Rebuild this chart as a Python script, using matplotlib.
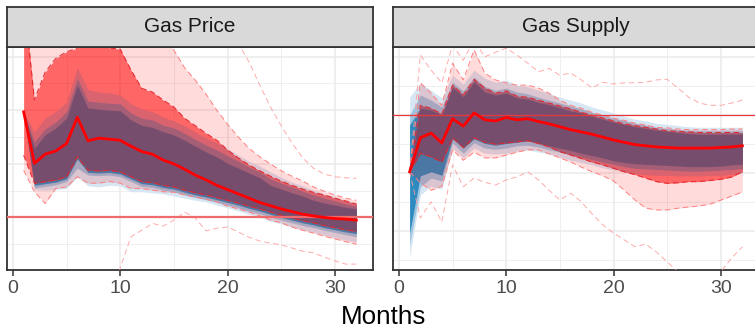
import numpy as np
import matplotlib.pyplot as plt

plt.rcParams['font.family'] = ['Liberation Sans', 'DejaVu Sans']
plt.rcParams['lines.scale_dashes'] = False

months = np.arange(1, 33)

# ---- Gas Price (left panel) ----
price_median = [19.7, 10.1, 11.8, 12.4, 13.8, 18.7, 14.3, 14.8, 14.6, 14.4, 13.3, 12.3, 11.8, 10.7, 10.0, 9.0,
                7.9, 7.0, 6.0, 5.2, 4.4, 3.6, 2.8, 2.2, 1.6, 1.1, 0.6, 0.3, 0.0, -0.2, -0.3, -0.5]
price_b_in_hi = [19.7, 12.9, 15.4, 16.7, 18.5, 24.7, 20.4, 20.2, 20.0, 19.9, 18.2, 17.2, 16.8, 16.0, 15.4, 14.4,
                 13.3, 12.2, 11.3, 10.1, 9.2, 8.3, 7.4, 6.0, 5.3, 4.6, 4.0, 3.2, 2.7, 2.3, 1.9, 1.6]
price_b_mid_hi = [19.7, 14.1, 16.5, 17.8, 19.7, 26.0, 21.7, 21.5, 21.3, 21.2, 19.5, 18.5, 18.2, 17.2, 16.7, 15.7,
                  14.6, 13.5, 12.6, 11.5, 10.5, 9.4, 8.5, 7.2, 6.4, 5.7, 4.9, 4.2, 3.6, 3.1, 2.5, 2.1]
price_b_out_hi = [19.7, 15.9, 18.5, 19.7, 21.5, 27.9, 23.8, 23.4, 23.2, 22.8, 21.2, 20.2, 19.7, 18.7, 18.0, 17.1,
                  15.9, 14.8, 13.9, 12.8, 11.6, 10.5, 9.6, 8.5, 7.5, 6.6, 5.9, 5.1, 4.4, 3.8, 3.2, 2.7]
price_b_in_lo = [19.7, 6.0, 6.3, 6.6, 7.2, 10.9, 8.4, 8.3, 8.4, 8.1, 7.2, 6.3, 6.1, 5.6, 5.3, 4.7,
                 4.2, 3.8, 3.3, 2.8, 2.3, 1.7, 1.2, 0.6, 0.0, -0.5, -1.0, -1.4, -1.9, -2.3, -2.7, -3.0]
price_b_mid_lo = [19.7, 5.5, 5.8, 6.1, 6.7, 9.2, 7.9, 7.8, 7.9, 7.6, 6.7, 5.8, 5.6, 5.1, 4.8, 4.2,
                  3.7, 3.3, 2.8, 2.3, 1.8, 1.2, 0.7, 0.1, -0.5, -1.0, -1.5, -1.9, -2.4, -2.8, -3.2, -3.6]
price_b_out_lo = [19.7, 5.2, 5.1, 5.2, 5.4, 7.6, 5.9, 5.7, 6.0, 5.9, 4.8, 4.8, 4.6, 4.4, 4.0, 3.6,
                  3.2, 2.9, 2.3, 1.8, 1.2, 0.6, 0.1, -0.7, -1.2, -1.8, -2.3, -2.7, -3.3, -3.8, -4.2, -4.6]
price_r_in_hi = [41.7, 21.9, 27.1, 29.7, 30.9, 31.6, 32.4, 32.4, 31.6, 31.4, 27.5, 24.1, 23.4, 21.9, 20.6, 18.5,
                 17.1, 15.7, 14.4, 12.6, 11.1, 9.8, 8.7, 7.7, 6.8, 6.0, 5.3, 4.7, 4.2, 3.6, 3.1, 2.5]
price_r_in_lo = [11.6, 6.4, 6.7, 7.0, 7.6, 11.3, 8.8, 8.7, 8.8, 8.5, 7.6, 6.7, 6.5, 6.0, 5.7, 5.1,
                 4.6, 4.2, 3.7, 3.2, 2.7, 2.1, 1.6, 1.0, 0.4, -0.1, -0.6, -1.0, -1.5, -1.9, -2.3, -2.6]
price_r_out_hi = [45, 38, 40, 42, 43, 44, 44, 43, 42, 41, 39, 37, 35, 33.5, 31.2, 27.9,
                  25.6, 23.0, 20.0, 17.4, 15.0, 12.9, 11.3, 10.0, 8.7, 7.7, 6.8, 5.7, 4.9, 4.2, 3.6, 3.2]
price_r_out_lo = [8.8, 4.8, 2.6, 5.4, 5.7, 7.6, 6.4, 6.4, 6.7, 6.4, 5.4, 5.4, 5.1, 4.8, 4.7, 4.2,
                  3.8, 3.4, 2.9, 2.1, 1.6, 1.0, 0.3, -0.5, -1.0, -1.8, -2.4, -2.9, -3.5, -4.0, -4.5, -5.0]
price_x_hi = [45, 48, 50, 51, 52, 53, 53, 52, 51, 50, 48, 46, 44, 42, 40, 38,
              36.5, 35, 34, 33.5, 32.5, 29.0, 24.7, 20.6, 17.1, 13.9, 11.1, 9.2, 8.1, 7.6, 7.4, 7.3]
price_x_lo = [-14, -20, -22, -21, -20, -17, -19, -18, -17, -9.4, -3.6, -2.4, -1.1, -1.6, -0.5, 1.0,
              -0.1, -2.5, -2.0, -1.8, -2.7, -3.7, -4.4, -4.8, -5.1, -5.7, -6.3, -6.6, -7.4, -8.1, -8.7, -8.7]

# ---- Gas Supply (right panel) ----
supply_median = [-9.8, -3.9, -3.1, -4.8, -0.6, -1.9, 0.4, -0.8, -1.0, -0.4, -0.8, -0.6, -1.1, -1.5, -2.0, -2.5,
                 -2.9, -3.3, -3.8, -4.3, -4.7, -5.1, -5.3, -5.5, -5.6, -5.7, -5.7, -5.7, -5.7, -5.6, -5.5, -5.3]
supply_b_in_hi = [-1.7, 1.2, 0.9, 0.0, 4.8, 3.2, 5.8, 4.0, 3.5, 3.8, 3.0, 2.8, 2.2, 1.8, 1.3, 0.7,
                  0.4, -0.2, -0.7, -1.2, -1.6, -2.0, -2.3, -2.6, -2.8, -3.0, -3.2, -3.3, -3.3, -3.3, -3.3, -3.3]
supply_b_mid_hi = [0.0, 3.5, 2.6, 1.4, 5.7, 4.2, 6.6, 5.0, 4.3, 4.7, 4.0, 3.7, 3.1, 2.6, 2.1, 1.6,
                   1.1, 0.5, 0.0, -0.5, -0.9, -1.4, -1.7, -2.1, -2.3, -2.5, -2.6, -2.7, -2.7, -2.7, -2.7, -2.7]
supply_b_out_hi = [3.1, 5.6, 4.3, 3.0, 6.9, 5.4, 7.8, 6.4, 5.7, 6.1, 5.2, 4.9, 4.3, 3.8, 3.1, 2.6,
                   2.1, 1.4, 0.9, 0.4, -0.2, -0.7, -1.0, -1.4, -1.6, -1.8, -2.0, -2.1, -2.1, -2.1, -2.1, -2.1]
supply_b_in_lo = [-20.4, -10.5, -9.8, -10.4, -4.1, -5.7, -4.1, -4.9, -5.2, -4.9, -4.7, -4.4, -4.8, -5.3, -5.7, -6.1,
                  -6.6, -7.0, -7.4, -7.9, -8.2, -8.4, -8.5, -8.6, -8.7, -8.8, -8.9, -8.9, -8.9, -8.8, -8.6, -8.5]
supply_b_mid_lo = [-22.5, -12.4, -10.9, -11.4, -4.8, -6.6, -4.8, -5.7, -5.9, -5.7, -5.3, -5.2, -5.5, -6.0, -6.4, -6.8,
                   -7.2, -7.7, -8.1, -8.5, -8.9, -9.2, -9.3, -9.4, -9.5, -9.6, -9.7, -9.7, -9.6, -9.5, -9.4, -9.2]
supply_b_out_lo = [-24.5, -13.8, -12.3, -12.8, -5.7, -7.4, -5.7, -6.6, -6.7, -6.6, -6.2, -6.0, -6.4, -6.7, -7.2, -7.8,
                   -8.2, -8.6, -9.1, -9.5, -9.8, -10.1, -10.3, -10.4, -10.4, -10.5, -10.5, -10.5, -10.4, -10.4, -10.2, -10.0]
supply_r_in_hi = [-9.8, 1.7, 1.2, 0.2, 5.2, 3.5, 6.2, 4.7, 3.8, 4.2, 3.3, 3.1, 2.6, 2.1, 1.6, 1.1,
                  0.5, 0.0, -0.5, -1.0, -1.5, -1.8, -2.1, -2.4, -2.7, -2.8, -2.9, -3.0, -3.0, -3.0, -3.0, -3.0]
supply_r_in_lo = [-9.8, -6.6, -7.2, -8.1, -3.9, -5.6, -3.9, -4.7, -5.0, -4.8, -4.6, -4.4, -4.9, -5.5, -6.3, -6.9,
                  -7.5, -8.1, -8.6, -9.2, -9.8, -10.3, -10.9, -11.5, -11.8, -11.7, -11.5, -11.5, -11.3, -11.1, -10.7, -9.8]
supply_r_out_hi = [-9.8, 5.6, 3.8, 1.7, 9.0, 6.1, 11.3, 7.3, 6.1, 5.6, 5.2, 5.2, 4.7, 3.8, 2.6, 1.7,
                   1.2, 0.5, 0.0, -0.5, -0.9, -1.4, -1.7, -2.1, -2.2, -2.4, -2.5, -2.5, -2.5, -2.5, -2.4, -2.4]
supply_r_out_lo = [-9.8, -11.7, -13.0, -12.3, -6.0, -7.8, -6.4, -7.4, -7.4, -6.9, -6.4, -6.0, -6.0, -6.7, -7.4, -8.1,
                   -9.0, -9.8, -10.5, -11.4, -13.0, -14.7, -16.1, -16.4, -16.4, -16.1, -15.9, -15.7, -15.4, -14.7, -14.0, -13.3]
supply_x_hi = [-9.8, 10.4, 7.8, 5.6, 12.1, 9.5, 13.0, 10.1, 10.9, 11.6, 10.4, 9.0, 7.5, 8.1, 6.9, 7.3,
               6.1, 4.7, 5.7, 5.4, 5.6, 5.6, 5.7, 6.1, 6.2, 4.7, 3.1, 2.1, 1.7, 1.7, 2.1, 2.6]
supply_x_lo = [-9.8, -17.8, -15.0, -18.5, -8.6, -12.4, -10.9, -11.6, -12.1, -11.2, -10.7, -9.8, -11.2, -13.0, -14.7, -13.5,
               -15.0, -17.1, -19.0, -20.4, -21.6, -22.8, -22.3, -23.7, -25.4, -27.1, -28.2, -28.9, -28.5, -27.1, -24.7, -22.8]

panel_titles = ['Gas Price', 'Gas Supply']

# colours
blue_out, blue_mid, blue_in = '#D6E6F3', '#9CC3E0', '#2E8BC0'
mix_out, mix_mid, mix_in = '#D9646F', '#A45E76', '#774D6E'
red = '#FF0000'


def draw_panel(ax, med, b_in, b_mid, b_out, r_in, r_out, ex, ylim, yt_major, yt_minor, hl_col, hl_lw):
    xf = np.linspace(1, 32, 1241)
    f = lambda s: np.interp(xf, months, s)
    bi_lo, bi_hi = f(b_in[0]), f(b_in[1])
    bm_lo, bm_hi = f(b_mid[0]), f(b_mid[1])
    bo_lo, bo_hi = f(b_out[0]), f(b_out[1])
    ri_lo, ri_hi = f(r_in[0]), f(r_in[1])
    ro_lo, ro_hi = f(r_out[0]), f(r_out[1])

    # blue fan
    ax.fill_between(xf, bo_lo, bo_hi, color=blue_out, lw=0, zorder=1)
    ax.fill_between(xf, bm_lo, bm_hi, color=blue_mid, lw=0, zorder=1.1)
    ax.fill_between(xf, bi_lo, bi_hi, color=blue_in, lw=0, zorder=1.2)
    # red fan
    ax.fill_between(xf, ro_lo, ro_hi, color=red, alpha=0.14, lw=0, zorder=2)
    ax.fill_between(xf, ri_lo, ri_hi, color=red, alpha=0.53, lw=0, zorder=2.1)
    # overlap of inner red band with the blue bands
    for k, (blo, bhi, col) in enumerate([(bo_lo, bo_hi, mix_out), (bm_lo, bm_hi, mix_mid), (bi_lo, bi_hi, mix_in)]):
        lo = np.maximum(ri_lo, blo)
        hi = np.minimum(ri_hi, bhi)
        ax.fill_between(xf, lo, hi, where=hi > lo, color=col, lw=0, zorder=3 + 0.1 * k)

    # dashed bounds
    for s in r_in:
        ax.plot(months, s, color='#E3242B', lw=0.8, ls=(0, (4, 2.5)), alpha=0.9, zorder=6)
    for s in r_out:
        ax.plot(months, s, color='#FF7F7F', lw=0.7, ls=(0, (4, 2.5)), zorder=6)
    for s in ex:
        ax.plot(months, s, color='#FF9C9C', lw=0.7, ls=(0, (4, 2.5)), alpha=0.85, zorder=5)

    ax.axhline(0, color=hl_col, lw=hl_lw, zorder=7)
    ax.plot(months, med, color=red, lw=2.0, zorder=10)

    ax.set_xlim(-0.55, 33.55)
    ax.set_ylim(*ylim)
    ax.set_xticks([0, 10, 20, 30])
    ax.set_xticks([5, 15, 25], minor=True)
    ax.set_yticks(yt_major)
    ax.set_yticks(yt_minor, minor=True)
    ax.grid(which='major', color='#EBEBEB', lw=1.1)
    ax.grid(which='minor', color='#EBEBEB', lw=0.55)
    ax.set_axisbelow(True)
    ax.tick_params(axis='y', which='both', length=0, labelleft=False)
    ax.tick_params(axis='x', which='minor', length=0)
    ax.tick_params(axis='x', which='major', length=4.3, width=1.1, color='#333333',
                   labelsize=14, labelcolor='#4D4D4D', pad=3)
    for sp in ax.spines.values():
        sp.set_color('#333333')
        sp.set_linewidth(1.3)


fig = plt.figure(figsize=(7.55, 3.29), dpi=100)
W, H = 755, 329
lefts = [7, 393]
pw = 366
p_top, p_bot = 47, 270
s_top = 7

axes = []
for i, l in enumerate(lefts):
    ax = fig.add_axes([l / W, (H - p_bot) / H, pw / W, (p_bot - p_top) / H])
    axes.append(ax)
    sax = fig.add_axes([l / W, (H - p_top) / H, pw / W, (p_top - s_top) / H])
    sax.set_facecolor('#D9D9D9')
    sax.set_xticks([])
    sax.set_yticks([])
    for sp in sax.spines.values():
        sp.set_color('#333333')
        sp.set_linewidth(1.3)
    sax.text(0.5, 0.5, panel_titles[i], ha='center', va='center', fontsize=15, color='#1A1A1A',
             transform=sax.transAxes)

draw_panel(axes[0], price_median, (price_b_in_lo, price_b_in_hi), (price_b_mid_lo, price_b_mid_hi),
           (price_b_out_lo, price_b_out_hi), (price_r_in_lo, price_r_in_hi), (price_r_out_lo, price_r_out_hi),
           (price_x_lo, price_x_hi), (-9.8, 31.8), [0, 10, 20, 30], [-5, 5, 15, 25], '#F06B6B', 1.6)
draw_panel(axes[1], supply_median, (supply_b_in_lo, supply_b_in_hi), (supply_b_mid_lo, supply_b_mid_hi),
           (supply_b_out_lo, supply_b_out_hi), (supply_r_in_lo, supply_r_in_hi), (supply_r_out_lo, supply_r_out_hi),
           (supply_x_lo, supply_x_hi), (-26.8, 11.8), [-20, -10, 0, 10], [-25, -15, -5, 5], '#E8383D', 0.9)

fig.text(384 / W, 0.5 / H, 'Months', ha='center', va='bottom', fontsize=18.7, color='#000000')

fig.savefig('out.png', dpi=100)
